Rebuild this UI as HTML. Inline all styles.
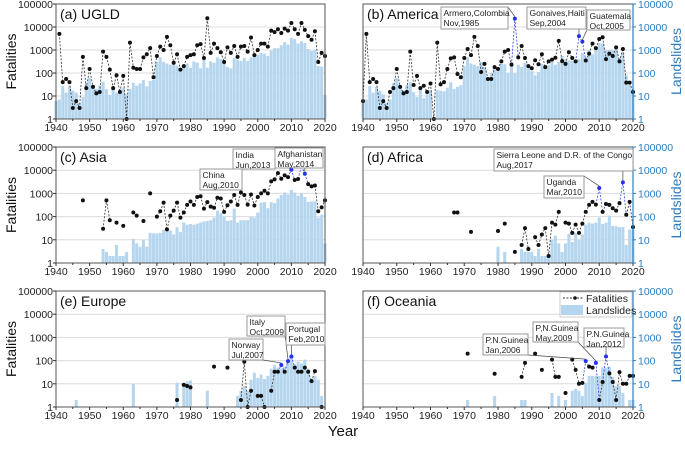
<!DOCTYPE html>
<html><head><meta charset="utf-8"><style>
body{margin:0;background:#fff;width:685px;height:444px;overflow:hidden;font-family:"Liberation Sans",Arial,sans-serif}
svg text{font-family:"Liberation Sans",Arial,sans-serif}
</style></head><body>
<svg id="chart" width="685" height="444" viewBox="0 0 685 444" xmlns="http://www.w3.org/2000/svg"></svg>
<script>
const aFatYears=[1941,1942,1943,1944,1945,1946,1947,1948,1949,1950,1951,1952,1953,1954,1955,1956,1957,1958,1959,1960,1961,1962,1963,1964,1965,1966,1967,1968,1969,1970,1971,1972,1973,1974,1975,1976,1977,1978,1979,1980,1981,1982,1983,1984,1985,1986,1987,1988,1989,1990,1991,1992,1993,1994,1995,1996,1997,1998,1999,2000,2001,2002,2003,2004,2005,2006,2007,2008,2009,2010,2011,2012,2013,2014,2015,2016,2017,2018,2019,2020];
const aFat=[5000,40,55,40,3,6,3,500,22,150,25,13,15,850,500,140,22,80,15,75,1,2100,170,150,150,480,650,1200,65,550,1400,1000,3700,1600,280,650,140,200,500,600,650,1600,1800,450,24000,750,1900,1200,800,300,1300,750,1500,500,1400,1500,850,3500,600,1000,1900,1900,1400,7000,6000,8000,5500,8500,7000,15000,8000,5000,15000,7500,4000,2800,6500,300,750,550];
const aSlideYears=[1940,1941,1942,1943,1944,1945,1946,1947,1948,1949,1950,1951,1952,1953,1954,1955,1956,1957,1958,1959,1960,1961,1962,1963,1964,1965,1966,1967,1968,1969,1970,1971,1972,1973,1974,1975,1976,1977,1978,1979,1980,1981,1982,1983,1984,1985,1986,1987,1988,1989,1990,1991,1992,1993,1994,1995,1996,1997,1998,1999,2000,2001,2002,2003,2004,2005,2006,2007,2008,2009,2010,2011,2012,2013,2014,2015,2016,2017,2018,2019,2020];
const aSlides=[6,7,27,14,27,17,14,5,9,35,60,30,20,28,42,20,11,24,14,20,22,12,20,38,28,35,50,26,45,50,300,480,300,260,230,300,210,120,220,260,170,320,280,160,420,170,320,280,480,400,280,180,160,440,380,340,460,330,480,550,600,750,700,550,950,1200,1200,1600,2200,1700,3400,3000,1900,2400,2000,1100,900,1000,200,190,11];
const aHigh=[];

const bFatYears=[1940].concat(aFatYears);
const bFat=[6,5000,40,55,40,3,6,3,15,22,150,25,13,15,850,30,75,22,28,15,35,1,2100,32,40,150,430,480,90,65,450,1100,600,3700,1500,110,250,55,55,180,150,320,850,1000,230,23000,480,1500,450,200,160,360,240,650,180,320,380,460,2500,330,250,800,450,320,4000,2300,350,700,1900,1200,3000,3600,400,700,550,1300,320,1100,38,38,15];
const bSlideYears=aSlideYears;
const bSlides=[6,7,27,14,25,17,12,5,7,35,60,30,18,30,40,15,9,20,8,12,18,1,18,17,16,23,40,20,25,30,200,480,260,230,200,300,170,60,100,200,120,250,240,100,300,100,230,180,280,160,120,80,110,250,190,220,300,230,300,550,400,350,350,300,400,750,500,1000,650,1400,2000,1900,1000,1000,1000,1000,450,800,80,30,15];
const bHigh=[1985,2004,2005];

const cFatYears=[1948,1954,1955,1956,1958,1960,1963,1964,1966,1968,1970,1971,1972,1973,1974,1975,1976,1977,1978,1979,1980,1981,1982,1983,1984,1985,1986,1987,1988,1989,1990,1991,1992,1993,1994,1995,1996,1997,1998,1999,2000,2001,2002,2003,2004,2005,2006,2007,2008,2009,2010,2011,2012,2013,2014,2015,2016,2017,2018,2019,2020];
const cFat=[500,30,500,70,55,40,150,110,65,1000,100,170,400,28,110,180,400,90,150,320,450,320,700,750,220,420,270,240,650,600,160,310,450,850,320,1100,850,330,900,300,700,1000,1300,1000,3300,4000,7500,4300,6000,5000,10500,3800,4200,15000,7000,2500,2000,2200,170,250,500];
const cSlideYears=[1954,1955,1956,1957,1958,1959,1960,1961,1963,1964,1965,1966,1967,1968,1969,1970,1971,1972,1973,1974,1975,1976,1977,1978,1979,1980,1981,1982,1983,1984,1985,1986,1987,1988,1989,1990,1991,1992,1993,1994,1995,1996,1997,1998,1999,2000,2001,2002,2003,2004,2005,2006,2007,2008,2009,2010,2011,2012,2013,2014,2015,2016,2017,2018,2019,2020];
const cSlides=[4,3,2,2,6,2,2,3,11,7,5,10,5,20,19,19,20,27,28,25,17,35,22,55,45,48,45,50,55,62,65,70,90,180,140,100,65,70,220,55,70,70,70,100,90,150,400,420,230,420,380,600,850,1100,900,1400,1100,800,1000,700,430,450,460,90,120,7];
const cHigh=[2010,2013,2014];

const dFatYears=[1967,1968,1972,1980,1982,1985,1987,1988,1989,1991,1992,1993,1994,1995,1996,1997,1998,2000,2001,2002,2003,2004,2005,2006,2007,2008,2009,2010,2011,2012,2013,2014,2015,2016,2017,2018,2019,2020];
const dFat=[150,150,22,24,50,3,6,32,4,13,6,17,32,2,55,45,160,55,50,20,45,20,50,160,320,430,330,1700,160,350,320,230,180,380,3000,120,430,35];
const dSlideYears=[1980,1982,1987,1988,1989,1990,1991,1992,1993,1994,1995,1996,1997,1998,1999,2000,2001,2002,2003,2004,2005,2006,2007,2008,2009,2010,2011,2012,2013,2014,2015,2016,2017,2018,2019,2020];
const dSlides=[5,3,4,3,3,3,2,4,2,2,2,10,15,7,3,7,18,8,20,10,17,45,55,50,55,90,48,55,110,40,38,35,35,6,28,28];
const dHigh=[2010,2017];

const eFatYears=[1976,1978,1979,1980,1987,1991,1995,1996,1997,1998,2000,2001,2002,2004,2005,2006,2007,2008,2009,2010,2011,2012,2013,2014,2015,2016,2017,2019];
const eFat=[2,9,8,7,55,50,2,90,1,5,3,3,1,5,33,33,65,33,95,150,50,33,33,50,33,13,35,1];
const eSlideYears=[1946,1963,1976,1978,1979,1980,1985,1994,1995,1996,1997,1998,1999,2000,2001,2002,2003,2004,2005,2006,2007,2008,2009,2010,2011,2012,2013,2014,2015,2016,2017,2018,2019];
const eSlides=[2,10,11,11,13,14,5,3,5,8,5,15,30,18,25,16,22,45,65,50,45,55,80,130,70,90,75,110,45,17,22,15,3];
const eHigh=[2007,2009,2010];

const fFatYears=[1971,1979,1987,1988,1991,1993,1996,1997,1998,2000,2002,2003,2004,2005,2006,2007,2008,2009,2010,2011,2012,2013,2014,2015,2016,2017,2018,2019,2020];
const fFat=[200,27,20,80,200,40,110,20,20,4,110,40,10,11,95,55,50,80,2,12,150,28,12,2,32,10,10,22,22];
const fSlideYears=[1971,1979,1987,1988,1996,1998,2000,2002,2003,2004,2005,2006,2007,2008,2009,2010,2011,2012,2013,2014,2015,2016,2017,2019,2020];
const fSlides=[2,3,2,2,4,3,2,5,6,5,3,11,22,22,22,22,50,50,55,20,8,8,4,2,2];
const fHigh=[2006,2009,2012];

const yTicks=[1,10,100,1000,10000,100000];
const yTickLabels=["1","10","100","1000","10000","100000"];
const xTicks=[1940,1950,1960,1970,1980,1990,2000,2010,2020];

const NS="http://www.w3.org/2000/svg";
const svg=document.getElementById('chart');
function mk(tag,attrs,parent,txt){const e=document.createElementNS(NS,tag);for(const k in attrs)e.setAttribute(k,attrs[k]);if(txt!==undefined)e.textContent=txt;(parent||svg).appendChild(e);return e;}
const BLUE="#2e7dbf";

function panel(p){
  const g=mk('g',{});
  
  
  const xs=y=>p.x0+(y-1940)/80*(p.x1-p.x0);
  const ys=v=>p.y1-Math.log10(Math.max(v,1))/5*(p.y1-p.y0);
  const yw=(p.x1-p.x0)/80;
  yTicks.forEach(t=>{if(t>1&&t<100000){const gl=mk('line',{x1:p.x0,x2:p.x1,y1:ys(t),y2:ys(t),stroke:'#dcdcdc','stroke-width':1},g);}});
  p.sy.forEach((yr,i)=>{const v=p.sv[i];if(v<=1)return;
    const r=mk('rect',{x:xs(yr)-yw*0.45,y:ys(v),width:yw*0.9,height:p.y1-ys(v),fill:'#b5d6ee'},g);
    
    });
  for(let i=1;i<p.fy.length;i++){ if(p.fy[i]-p.fy[i-1]!==1)continue;
    const hi=p.hi.includes(p.fy[i])||p.hi.includes(p.fy[i-1]);
    const l=mk('line',{x1:xs(p.fy[i-1]),y1:ys(p.fv[i-1]),x2:xs(p.fy[i]),y2:ys(p.fv[i]),stroke:hi?'#3344ee':'#333','stroke-width':0.8,'stroke-dasharray':'2,1.5'},g);
    
    }
  p.fy.forEach((yr,i)=>{const hi=p.hi.includes(yr);
    const c=mk('circle',{cx:xs(yr),cy:ys(p.fv[i]),r:2,fill:hi?'#2233ee':'#111'},g);
    
    });
  const fr=mk('rect',{x:p.x0,y:p.y0,width:p.x1-p.x0,height:p.y1-p.y0,fill:'none',stroke:'#555','stroke-width':1},g);
  
  if(p.right){mk('line',{x1:p.x1,x2:p.x1,y1:p.y0,y2:p.y1,stroke:BLUE,'stroke-width':1.2},g);}
  for(let y=1940;y<=2020;y+=5){mk('line',{x1:xs(y),x2:xs(y),y1:p.y1,y2:p.y1+(y%10?2:3),stroke:'#333'},g);}
  xTicks.forEach(t=>{const tx=mk('text',{x:xs(t),y:p.y1+12,'font-size':10.5,'text-anchor':'middle',fill:'#222'},g,String(t));
    });
  yTicks.forEach((t,i)=>{
    if(p.right){mk('line',{x1:p.x1,x2:p.x1+3,y1:ys(t),y2:ys(t),stroke:BLUE},g);
      const tx=mk('text',{x:p.x1+5,y:ys(t)+4,'font-size':10.5,fill:BLUE},g,yTickLabels[i]);
      }
    else{mk('line',{x1:p.x0-3,x2:p.x0,y1:ys(t),y2:ys(t),stroke:'#333'},g);
      const tx=mk('text',{x:p.x0-3,y:ys(t)+4,'font-size':10.5,'text-anchor':'end',fill:'#222'},g,yTickLabels[i]);
      }
  });
  const t=mk('text',{x:p.x0+4,y:p.y0+15,'font-size':14,fill:'#111'},g,p.title);
  
  const cy=(p.y0+p.y1)/2;
  if(p.right){const a=mk('text',{x:0,y:0,'font-size':14,fill:BLUE,'text-anchor':'middle',transform:`translate(681,${cy}) rotate(-90)`},g,'Landslides');
    }
  else{const a=mk('text',{x:0,y:0,'font-size':14,fill:'#111','text-anchor':'middle',transform:`translate(16,${cy}) rotate(-90)`},g,'Fatalities');
    }
  p.xs=xs;p.ys=ys;
  return p;
}
const P={
 a:panel({id:'a',title:'(a) UGLD',x0:56,x1:325,y0:4,y1:119,fy:aFatYears,fv:aFat,sy:aSlideYears,sv:aSlides,hi:aHigh}),
 b:panel({id:'b',title:'(b) America',right:1,x0:363,x1:633,y0:4,y1:119,fy:bFatYears,fv:bFat,sy:bSlideYears,sv:bSlides,hi:bHigh}),
 c:panel({id:'c',title:'(c) Asia',x0:56,x1:325,y0:147,y1:263,fy:cFatYears,fv:cFat,sy:cSlideYears,sv:cSlides,hi:cHigh}),
 d:panel({id:'d',title:'(d) Africa',right:1,x0:363,x1:633,y0:147,y1:263,fy:dFatYears,fv:dFat,sy:dSlideYears,sv:dSlides,hi:dHigh}),
 e:panel({id:'e',title:'(e) Europe',x0:56,x1:325,y0:291,y1:407,fy:eFatYears,fv:eFat,sy:eSlideYears,sv:eSlides,hi:eHigh}),
 f:panel({id:'f',title:'(f) Oceania',right:1,x0:363,x1:633,y0:291,y1:407,fy:fFatYears,fv:fFat,sy:fSlideYears,sv:fSlides,hi:fHigh})
};
function note(p,x,y,w,h,l1,l2,yr,val){
  const g=mk('g',{});
  
  
  const px=P[p].xs(yr),py=P[p].ys(val);
  const ax=Math.min(Math.max(px,x),x+w), ay=(py>y+h)?y+h:y;
  mk('line',{x1:ax,y1:ay,x2:px,y2:py-2,stroke:'#444','stroke-width':0.7},g);
  mk('rect',{x:x,y:y,width:w,height:h,fill:'#fff',stroke:'#999','stroke-width':1},g);
  mk('text',{x:x+2.5,y:y+9,'font-size':8.5,fill:'#222'},g,l1);
  mk('text',{x:x+2.5,y:y+19,'font-size':8.5,fill:'#222'},g,l2);
}
note('b',441,7,67,22,'Armero,Colombia','Nov,1985',1985,23000);
note('b',527,7,59,22,'Gonaives,Haiti','Sep,2004',2004,4000);
note('b',587,10,43,20,'Guatemala','Oct,2005',2005,2300);
note('c',200,169,42,21,'China','Aug,2010',2010,10500);
note('c',233,149,42,20,'India','Jun,2013',2013,15000);
note('c',275,148,48,20,'Afghanistan','May,2014',2014,7000);
note('d',494,149,139,22,'Sierra Leone and D.R. of the Congo','Aug,2017',2017,3000);
note('d',544,176,40,22,'Uganda','Mar,2010',2010,1700);
note('e',229,339,34,21,'Norway','Jul,2007',2007,65);
note('e',247,316,38,20,'Italy','Oct,2009',2009,95);
note('e',286,323,39,22,'Portugal','Feb,2010',2010,150);
note('f',483,334,45,21,'P.N.Guinea','Jan,2006',2006,95);
note('f',533,322,45,20,'P,N.Guinea','May,2009',2009,80);
note('f',584,328,40,19,'P.N.Guinea','Jan,2012',2012,150);
const lg=mk('g',{});


mk('rect',{x:560,y:292,width:72,height:25,fill:'#fff',stroke:'#ccc'},lg);
mk('line',{x1:563,x2:583,y1:298,y2:298,stroke:'#333','stroke-dasharray':'2,1.5'},lg);
mk('circle',{cx:575,cy:298,r:1.8,fill:'#111'},lg);
mk('text',{x:586,y:302,'font-size':10.5,fill:'#222'},lg,'Fatalities');
mk('rect',{x:561,y:305,width:22,height:10,fill:'#b5d6ee'},lg);
mk('text',{x:586,y:314,'font-size':10.5,fill:'#222'},lg,'Landslides');
const yt=mk('text',{x:343,y:436,'font-size':15,'text-anchor':'middle',fill:'#111'},svg,'Year');


</script>
</body></html>
